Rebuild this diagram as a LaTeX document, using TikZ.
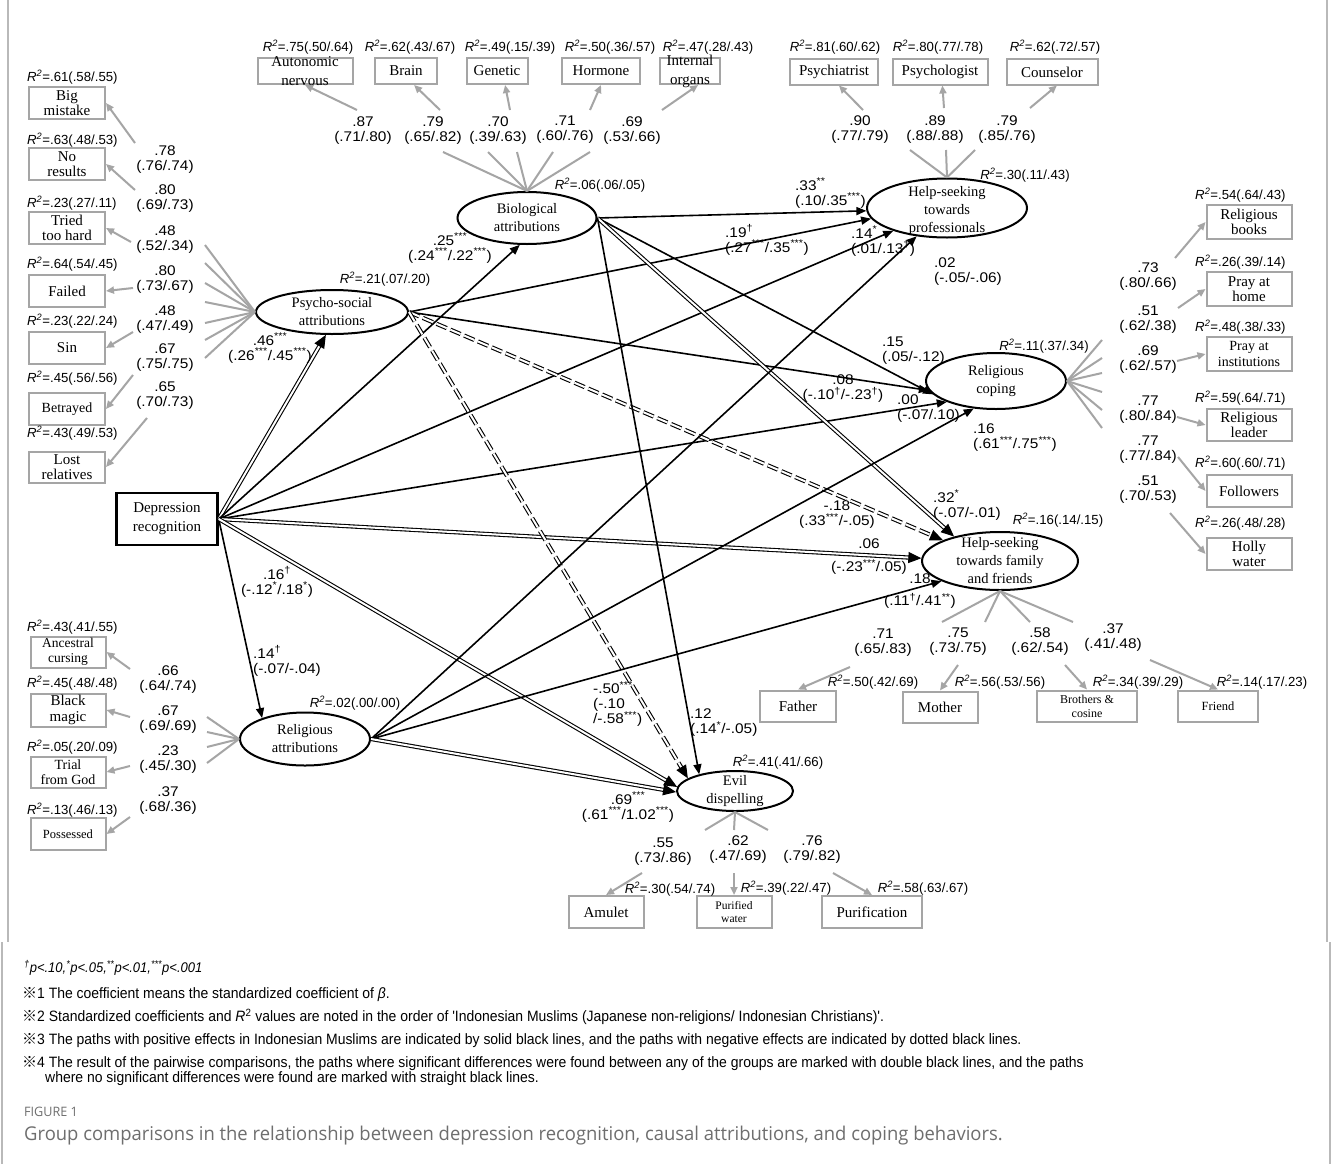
\documentclass[tikz,border=0pt]{standalone}
\usepackage{fontspec}
\setmainfont{Liberation Serif}
\newfontfamily\numfont[FakeStretch=1.1]{Liberation Sans}
\newfontfamily\rfont{Liberation Sans}
\newfontfamily\notefont[FakeStretch=0.93]{Liberation Sans}
\newfontfamily\markfont{Noto Sans CJK JP}
\newfontfamily\capfont[FakeStretch=0.97]{Open Sans}
\usetikzlibrary{shapes,arrows.meta}

\definecolor{indgray}{RGB}{165,165,165}
\definecolor{capgray}{RGB}{110,110,110}
\definecolor{framegray}{RGB}{185,185,185}

\newcommand{\rsq}[1]{{\itshape R\textsuperscript{2}}=#1}
\newcommand{\sig}[1]{\textsuperscript{#1}}

\tikzset{
  ind/.style={draw=indgray, line width=2pt, rectangle, inner sep=0pt, align=center, font=\fontsize{15}{15.5}\selectfont},
  latent/.style={draw, ellipse, line width=2pt, inner sep=0pt},
  latxt/.style={align=center, inner sep=0pt, font=\fontsize{14.5}{18}\selectfont},
  obs/.style={draw, rectangle, line width=2.4pt, inner sep=0pt, align=center, font=\fontsize{15}{19}\selectfont},
  rsqlab/.style={font=\rfont\fontsize{13.2}{14}\selectfont, inner sep=0pt},
  coef/.style={font=\numfont\fontsize{14}{15}\selectfont, inner sep=0pt, align=center},
  stub/.style={indgray, line width=2pt},
  load/.style={indgray, line width=2pt, -{Triangle[length=8pt,width=7pt]}},
  path/.style={line width=1.6pt, -{Triangle[length=10pt,width=8pt]}},
  dbl/.style={line width=1.1pt, double distance=2pt, -{Triangle[length=13pt,width=11pt]}},
  negdbl/.style={dbl, dash pattern=on 11pt off 4pt},
  note/.style={anchor=west, inner sep=0pt, font=\notefont\fontsize{15}{16}\selectfont},
}

\begin{document}
\begin{tikzpicture}[x=1pt,y=-1pt]
  \useasboundingbox (0,0) rectangle (1332,1164);
  \fill[white] (0,0) rectangle (1332,1164);
  % frame
  \draw[framegray, line width=1.5pt] (8,0) -- (8,942);
  \draw[framegray, line width=1.5pt] (1327,0) -- (1327,942);
  \draw[framegray, line width=1.5pt] (2,942) -- (2,1164);
  \draw[framegray, line width=1.5pt] (1330,942) -- (1330,1164);

  % Draw latent variables
  \node[latent, minimum width=152, minimum height=44, label={[latxt]center:Psycho-social\\attributions}] (psy) at (332,312) {};
  \node[latent, minimum width=139, minimum height=52, label={[latxt]center:Biological\\attributions}] (bio) at (527,218) {};
  \node[latent, minimum width=130, minimum height=53, label={[latxt]center:Religious\\attributions}] (rel) at (305,739) {};
  \node[latent, minimum width=160, minimum height=59, label={[latxt, yshift=-3pt]center:Help-seeking\\towards\\professionals}] (prof) at (947,208) {};
  \node[latent, minimum width=140, minimum height=56, label={[latxt]center:Religious\\coping}] (cope) at (996,381) {};
  \node[latent, minimum width=156, minimum height=58, label={[latxt]center:Help-seeking\\towards family\\and friends}] (fam) at (1000,561) {};
  \node[latent, minimum width=116, minimum height=40, label={[latxt]center:Evil\\dispelling}] (evil) at (735,791) {};
  \node[obs, minimum width=101, minimum height=52] (dep) at (167,519) {Depression\\recognition};

  % R2 of latent variables
  \node[rsqlab] (r-psy) at (385,279) {\rsq{.21(.07/.20)}};
  \node[rsqlab] (r-bio) at (600,185) {\rsq{.06(.06/.05)}};
  \node[rsqlab] (r-rel) at (355,703) {\rsq{.02(.00/.00)}};
  \node[rsqlab] (r-prof) at (1025,175) {\rsq{.30(.11/.43)}};
  \node[rsqlab] (r-cope) at (1044,346) {\rsq{.11(.37/.34)}};
  \node[rsqlab] (r-fam) at (1058,520) {\rsq{.16(.14/.15)}};
  \node[rsqlab] (r-evil) at (778,762) {\rsq{.41(.41/.66)}};

  % Psycho-social indicators
  \node[ind, minimum width=76, minimum height=32] (bm) at (67,103) {Big\\mistake};
  \node[ind, minimum width=76, minimum height=32] (nr) at (67,164) {No\\results};
  \node[ind, minimum width=76, minimum height=32] (th) at (67,228) {Tried\\too hard};
  \node[ind, minimum width=76, minimum height=32] (fd) at (67,291) {Failed};
  \node[ind, minimum width=76, minimum height=32] (sn) at (67,348) {Sin};
  \node[ind, minimum width=76, minimum height=32, font=\fontsize{14}{15}\selectfont] (bt) at (67,409) {Betrayed};
  \node[ind, minimum width=76, minimum height=31] (lr) at (67,467) {Lost\\relatives};
  \node[rsqlab, anchor=west] (r-bm) at (27,77) {\rsq{.61(.58/.55)}};
  \node[rsqlab, anchor=west] (r-nr) at (27,140) {\rsq{.63(.48/.53)}};
  \node[rsqlab, anchor=west] (r-th) at (27,203) {\rsq{.23(.27/.11)}};
  \node[rsqlab, anchor=west] (r-fd) at (27,264) {\rsq{.64(.54/.45)}};
  \node[rsqlab, anchor=west] (r-sn) at (27,321) {\rsq{.23(.22/.24)}};
  \node[rsqlab, anchor=west] (r-bt) at (27,378) {\rsq{.45(.56/.56)}};
  \node[rsqlab, anchor=west] (r-lr) at (27,433) {\rsq{.43(.49/.53)}};
  \node[coef] (c-bm) at (165,160) {.78\\(.76/.74)};
  \node[coef] (c-nr) at (165,199) {.80\\(.69/.73)};
  \node[coef] (c-th) at (165,240) {.48\\(.52/.34)};
  \node[coef] (c-fd) at (165,280) {.80\\(.73/.67)};
  \node[coef] (c-sn) at (165,320) {.48\\(.47/.49)};
  \node[coef] (c-bt) at (165,358) {.67\\(.75/.75)};
  \node[coef] (c-lr) at (165,396) {.65\\(.70/.73)};
  \coordinate (s-bm) at (205,245); \coordinate (a-bm) at (135,143);
  \coordinate (s-nr) at (205,263); \coordinate (a-nr) at (135,190);
  \coordinate (s-th) at (205,283); \coordinate (a-th) at (131,242);
  \coordinate (s-fd) at (205,302); \coordinate (a-fd) at (133,288);
  \coordinate (s-sn) at (205,323); \coordinate (a-sn) at (133,332);
  \coordinate (s-bt) at (205,340); \coordinate (a-bt) at (133,375);
  \coordinate (s-lr) at (205,358); \coordinate (a-lr) at (147,418);
  \draw[stub] (psy.west) -- (s-bm); \draw[load] (a-bm) -- (bm.east);
  \draw[stub] (psy.west) -- (s-nr); \draw[load] (a-nr) -- (nr.east);
  \draw[stub] (psy.west) -- (s-th); \draw[load] (a-th) -- (th.east);
  \draw[stub] (psy.west) -- (s-fd); \draw[load] (a-fd) -- (fd.east);
  \draw[stub] (psy.west) -- (s-sn); \draw[load] (a-sn) -- (sn.east);
  \draw[stub] (psy.west) -- (s-bt); \draw[load] (a-bt) -- (bt.east);
  \draw[stub] (psy.west) -- (s-lr); \draw[load] (a-lr) -- (lr.east);

  % Biological indicators
  \node[ind, minimum width=95, minimum height=26, label={[align=center, inner sep=0pt, font=\fontsize{15}{19}\selectfont]center:Autonomic\\nervous}] (an) at (305,71) {};
  \node[ind, minimum width=62, minimum height=26] (br) at (406,71) {Brain};
  \node[ind, minimum width=61, minimum height=26] (gn) at (497,71) {Genetic};
  \node[ind, minimum width=78, minimum height=26] (hm) at (601,71) {Hormone};
  \node[ind, minimum width=60, minimum height=26, label={[align=center, inner sep=0pt, font=\fontsize{15}{19}\selectfont]center:Internal\\organs}] (io) at (690,71) {};
  \node[rsqlab] (r-an) at (308,47) {\rsq{.75(.50/.64)}};
  \node[rsqlab] (r-br) at (410,47) {\rsq{.62(.43/.67)}};
  \node[rsqlab] (r-gn) at (510,47) {\rsq{.49(.15/.39)}};
  \node[rsqlab] (r-hm) at (610,47) {\rsq{.50(.36/.57)}};
  \node[rsqlab] (r-io) at (708,47) {\rsq{.47(.28/.43)}};
  \node[coef] (c-an) at (363,131) {.87\\(.71/.80)};
  \node[coef] (c-br) at (433,131) {.79\\(.65/.82)};
  \node[coef] (c-gn) at (498,131) {.70\\(.39/.63)};
  \node[coef] (c-hm) at (565,130) {.71\\(.60/.76)};
  \node[coef] (c-io) at (632,131) {.69\\(.53/.66)};
  \coordinate (s-an) at (443,152); \coordinate (a-an) at (357,110);
  \coordinate (s-br) at (488,152); \coordinate (a-br) at (440,110);
  \coordinate (s-gn) at (517,152); \coordinate (a-gn) at (510,110);
  \coordinate (s-hm) at (553,152); \coordinate (a-hm) at (590,110);
  \coordinate (s-io) at (590,152); \coordinate (a-io) at (662,110);
  \draw[stub] (bio.north) -- (s-an); \draw[load] (a-an) -- (an.south);
  \draw[stub] (bio.north) -- (s-br); \draw[load] (a-br) -- (br.-60);
  \draw[stub] (bio.north) -- (s-gn); \draw[load] (a-gn) -- (gn.-60);
  \draw[stub] (bio.north) -- (s-hm); \draw[load] (a-hm) -- (hm.south);
  \draw[stub] (bio.north) -- (s-io); \draw[load] (a-io) -- (io.-60);

  % Professional help indicators
  \node[ind, minimum width=88, minimum height=25] (ps) at (834,72) {Psychiatrist};
  \node[ind, minimum width=95, minimum height=25] (pl) at (940,72) {Psychologist};
  \node[ind, minimum width=91, minimum height=25] (cs) at (1052,72) {Counselor};
  \node[rsqlab] (r-ps) at (835,47) {\rsq{.81(.60/.62)}};
  \node[rsqlab] (r-pl) at (938,47) {\rsq{.80(.77/.78)}};
  \node[rsqlab] (r-cs) at (1055,47) {\rsq{.62(.72/.57)}};
  \node[coef] (c-ps) at (860,130) {.90\\(.77/.79)};
  \node[coef] (c-pl) at (935,130) {.89\\(.88/.88)};
  \node[coef] (c-cs) at (1007,130) {.79\\(.85/.76)};
  \coordinate (s-ps) at (910,150); \coordinate (a-ps) at (863,110);
  \coordinate (s-pl) at (946,150); \coordinate (a-pl) at (944,108);
  \coordinate (s-cs) at (975,150); \coordinate (a-cs) at (1030,108);
  \draw[stub] (prof.north) -- (s-ps); \draw[load] (a-ps) -- (ps.-70);
  \draw[stub] (prof.north) -- (s-pl); \draw[load] (a-pl) -- (pl.-80);
  \draw[stub] (prof.north) -- (s-cs); \draw[load] (a-cs) -- (cs.-70);

  % Religious coping indicators
  \node[ind, minimum width=85, minimum height=34] (rb) at (1249,222) {Religious\\books};
  \node[ind, minimum width=85, minimum height=34] (ph) at (1249,289) {Pray at\\home};
  \node[ind, minimum width=85, minimum height=34, font=\fontsize{14}{15.5}\selectfont] (pi) at (1249,354) {Pray at\\institutions};
  \node[ind, minimum width=85, minimum height=32] (rl) at (1249,425) {Religious\\leader};
  \node[ind, minimum width=85, minimum height=32] (fo) at (1249,491) {Followers};
  \node[ind, minimum width=85, minimum height=32] (hw) at (1249,554) {Holly\\water};
  \node[rsqlab, anchor=west] (r-rb) at (1195,195) {\rsq{.54(.64/.43)}};
  \node[rsqlab, anchor=west] (r-ph) at (1195,262) {\rsq{.26(.39/.14)}};
  \node[rsqlab, anchor=west] (r-pi) at (1195,327) {\rsq{.48(.38/.33)}};
  \node[rsqlab, anchor=west] (r-rl) at (1195,398) {\rsq{.59(.64/.71)}};
  \node[rsqlab, anchor=west] (r-fo) at (1195,463) {\rsq{.60(.60/.71)}};
  \node[rsqlab, anchor=west] (r-hw) at (1195,523) {\rsq{.26(.48/.28)}};
  \node[coef] (c-rb) at (1148,277) {.73\\(.80/.66)};
  \node[coef] (c-ph) at (1148,320) {.51\\(.62/.38)};
  \node[coef] (c-pi) at (1148,360) {.69\\(.62/.57)};
  \node[coef] (c-rl) at (1148,410) {.77\\(.80/.84)};
  \node[coef] (c-fo) at (1148,450) {.77\\(.77/.84)};
  \node[coef] (c-hw) at (1148,490) {.51\\(.70/.53)};
  \coordinate (s-rb) at (1102,340); \coordinate (a-rb) at (1175,258);
  \coordinate (s-ph) at (1102,358); \coordinate (a-ph) at (1178,308);
  \coordinate (s-pi) at (1102,373); \coordinate (a-pi) at (1177,361);
  \coordinate (s-rl) at (1102,392); \coordinate (a-rl) at (1177,417);
  \coordinate (s-fo) at (1102,410); \coordinate (a-fo) at (1178,457);
  \coordinate (s-hw) at (1102,428); \coordinate (a-hw) at (1170,513);
  \draw[stub] (cope.east) -- (s-rb); \draw[load] (a-rb) -- (rb.west);
  \draw[stub] (cope.east) -- (s-ph); \draw[load] (a-ph) -- (ph.west);
  \draw[stub] (cope.east) -- (s-pi); \draw[load] (a-pi) -- (pi.west);
  \draw[stub] (cope.east) -- (s-rl); \draw[load] (a-rl) -- (rl.west);
  \draw[stub] (cope.east) -- (s-fo); \draw[load] (a-fo) -- (fo.west);
  \draw[stub] (cope.east) -- (s-hw); \draw[load] (a-hw) -- (hw.west);

  % Family and friends indicators
  \node[ind, minimum width=76, minimum height=31] (ft) at (798,706) {Father};
  \node[ind, minimum width=75, minimum height=31] (mo) at (940,707) {Mother};
  \node[ind, minimum width=100, minimum height=31, font=\fontsize{12}{14}\selectfont] (bc) at (1087,706) {Brothers \&\\cosine};
  \node[ind, minimum width=80, minimum height=31, font=\fontsize{12.5}{14}\selectfont] (fr) at (1218,706) {Friend};
  \node[rsqlab] (r-ft) at (873,682) {\rsq{.50(.42/.69)}};
  \node[rsqlab] (r-mo) at (1000,682) {\rsq{.56(.53/.56)}};
  \node[rsqlab] (r-bc) at (1138,682) {\rsq{.34(.39/.29)}};
  \node[rsqlab] (r-fr) at (1262,682) {\rsq{.14(.17/.23)}};
  \node[coef] (c-ft) at (883,643) {.71\\(.65/.83)};
  \node[coef] (c-mo) at (958,642) {.75\\(.73/.75)};
  \node[coef] (c-bc) at (1040,642) {.58\\(.62/.54)};
  \node[coef] (c-fr) at (1113,638) {.37\\(.41/.48)};
  \coordinate (s-ft) at (942,622); \coordinate (a-ft) at (850,667);
  \coordinate (s-mo) at (985,622); \coordinate (a-mo) at (958,665);
  \coordinate (s-bc) at (1030,622); \coordinate (a-bc) at (1065,665);
  \coordinate (s-fr) at (1073,622); \coordinate (a-fr) at (1150,660);
  \draw[stub] (fam.south) -- (s-ft); \draw[load] (a-ft) -- (ft.north);
  \draw[stub] (fam.south) -- (s-mo); \draw[load] (a-mo) -- (mo.north);
  \draw[stub] (fam.south) -- (s-bc); \draw[load] (a-bc) -- (bc.north);
  \draw[stub] (fam.south) -- (s-fr); \draw[load] (a-fr) -- (fr.north);

  % Evil dispelling indicators
  \node[ind, minimum width=75, minimum height=32] (am) at (606,912) {Amulet};
  \node[ind, minimum width=75, minimum height=32, font=\fontsize{11.5}{13}\selectfont] (pw) at (734,912) {Purified\\water};
  \node[ind, minimum width=100, minimum height=32] (pu) at (872,912) {Purification};
  \node[rsqlab] (r-am) at (670,889) {\rsq{.30(.54/.74)}};
  \node[rsqlab] (r-pw) at (786,888) {\rsq{.39(.22/.47)}};
  \node[rsqlab] (r-pu) at (923,888) {\rsq{.58(.63/.67)}};
  \node[coef] (c-am) at (663,852) {.55\\(.73/.86)};
  \node[coef] (c-pw) at (738,850) {.62\\(.47/.69)};
  \node[coef] (c-pu) at (812,850) {.76\\(.79/.82)};
  \coordinate (s-am) at (705,830); \coordinate (a-am) at (642,873);
  \coordinate (s-pw) at (734,830); \coordinate (a-pw) at (734,873);
  \coordinate (s-pu) at (768,830); \coordinate (a-pu) at (833,873);
  \draw[stub] (evil.south) -- (s-am); \draw[load] (a-am) -- (am.north);
  \draw[stub] (evil.south) -- (s-pw); \draw[load] (a-pw) -- (pw.north);
  \draw[stub] (evil.south) -- (s-pu); \draw[load] (a-pu) -- (pu.north);

  % Religious attribution indicators
  \node[ind, minimum width=75, minimum height=31, font=\fontsize{13.5}{15}\selectfont] (ac) at (68,652) {Ancestral\\cursing};
  \node[ind, minimum width=75, minimum height=33] (bk) at (68,710) {Black\\magic};
  \node[ind, minimum width=75, minimum height=31, font=\fontsize{14}{15}\selectfont] (tg) at (68,772) {Trial\\from God};
  \node[ind, minimum width=75, minimum height=32, font=\fontsize{12.5}{14}\selectfont] (po) at (68,834) {Possessed};
  \node[rsqlab, anchor=west] (r-ac) at (27,627) {\rsq{.43(.41/.55)}};
  \node[rsqlab, anchor=west] (r-bk) at (27,683) {\rsq{.45(.48/.48)}};
  \node[rsqlab, anchor=west] (r-tg) at (27,747) {\rsq{.05(.20/.09)}};
  \node[rsqlab, anchor=west] (r-po) at (27,810) {\rsq{.13(.46/.13)}};
  \node[coef] (c-ac) at (168,680) {.66\\(.64/.74)};
  \node[coef] (c-bk) at (168,720) {.67\\(.69/.69)};
  \node[coef] (c-tg) at (168,760) {.23\\(.45/.30)};
  \node[coef] (c-po) at (168,801) {.37\\(.68/.36)};
  \coordinate (s-ac) at (207,717); \coordinate (a-ac) at (130,669);
  \coordinate (s-bk) at (207,732); \coordinate (a-bk) at (130,717);
  \coordinate (s-tg) at (207,747); \coordinate (a-tg) at (130,766);
  \coordinate (s-po) at (207,763); \coordinate (a-po) at (130,817);
  \draw[stub] (rel.west) -- (s-ac); \draw[load] (a-ac) -- (ac.east);
  \draw[stub] (rel.west) -- (s-bk); \draw[load] (a-bk) -- (bk.east);
  \draw[stub] (rel.west) -- (s-tg); \draw[load] (a-tg) -- (tg.east);
  \draw[stub] (rel.west) -- (s-po); \draw[load] (a-po) -- (po.east);

  % Structural paths from depression recognition
  \draw[dbl] (dep.east) -- (psy.255);
  \draw[path] (dep.east) -- (bio.255);
  \draw[path] (dep.east) -- (rel.154);
  \draw[path] (dep.east) -- (prof.203);
  \draw[path] (dep.east) -- (cope.203);
  \draw[dbl] (dep.east) -- (fam.178);
  \draw[dbl] (dep.east) -- (evil.176);
  % from psycho-social attributions
  \draw[path] (psy.east) -- (prof.188);
  \draw[path] (psy.east) -- (cope.188);
  \draw[negdbl] (psy.east) -- (fam.160);
  \draw[negdbl] (psy.east) -- (evil.165);
  % from biological attributions
  \draw[path] (bio.east) -- (prof.182);
  \draw[path] (bio.east) -- (cope.192);
  \draw[dbl] (bio.east) -- (fam.152);
  \draw[path] (bio.east) -- (evil.155);
  % from religious attributions
  \draw[path] (rel.east) -- (prof.223);
  \draw[path] (rel.east) -- (cope.231);
  \draw[path] (rel.east) -- (fam.199);
  \draw[dbl] (rel.east) -- (evil.181);

  % Path coefficients
  \node[coef] (p-dpsy) at (270,348) {.46\sig{***}\\(.26\sig{***}/.45\sig{***})};
  \node[coef] (p-dbio) at (450,248) {.25\sig{***}\\(.24\sig{***}/.22\sig{***})};
  \node[coef, anchor=west, align=left] (p-drel) at (253,661) {.14\sig{†}\\(-.07/-.04)};
  \node[coef] (p-devil) at (277,582) {.16\sig{†}\\(-.12\sig{*}/.18\sig{*})};
  \node[coef, anchor=west, align=left] (p-dprof) at (851,241) {.14\sig{*}\\(.01/.13\sig{†})};
  \node[coef, anchor=west, align=left] (p-dcope) at (897,409) {.00\\(-.07/.10)};
  \node[coef, font=\numfont\fontsize{14}{23}\selectfont] (p-dfam) at (869,557) {.06\\(-.23\sig{***}/.05)};
  \node[coef, anchor=west, align=left] (p-bprof) at (795,193) {.33\sig{**}\\(.10/.35\sig{***})};
  \node[coef, anchor=west, align=left] (p-pprof) at (725,240) {.19\sig{†}\\(.27\sig{***}/.35\sig{***})};
  \node[coef, anchor=west, align=left] (p-bcope) at (882,351) {.15\\(.05/-.12)};
  \node[coef] (p-pcope) at (843,389) {.08\\(-.10\sig{†}/-.23\sig{†})};
  \node[coef, anchor=west, align=left] (p-rprof) at (934,272) {.02\\(-.05/-.06)};
  \node[coef, anchor=west, align=left] (p-rcope) at (973,438) {.16\\(.61\sig{***}/.75\sig{***})};
  \node[coef, anchor=west, align=left] (p-bfam) at (933,505) {.32\sig{*}\\(-.07/-.01)};
  \node[coef] (p-pfam) at (837,515) {-.18\\(.33\sig{***}/-.05)};
  \node[coef, font=\numfont\fontsize{14}{22}\selectfont] (p-rfam) at (920,591) {.18\\(.11\sig{†}/.41\sig{**})};
  \node[coef, anchor=west, align=left] (p-pevil) at (593,704) {-.50\sig{***}\\(-.10\\/-.58\sig{***})};
  \node[coef, anchor=west, align=left] (p-bevil) at (690,723) {.12\\(.14\sig{*}/-.05)};
  \node[coef] (p-revil) at (628,807) {.69\sig{***}\\(.61\sig{***}/1.02\sig{***})};

  % Notes
  \node[note, font=\notefont\itshape\fontsize{14}{15}\selectfont] (n0) at (24,968) {\sig{†}p<.10,\sig{*}p<.05,\sig{**}p<.01,\sig{***}p<.001};
  \node[note] (n1) at (22,994) {{\markfont ※}1 The coefficient means the standardized coefficient of \textit{β}.};
  \node[note] (n2) at (22,1017) {{\markfont ※}2 Standardized coefficients and \textit{R}\textsuperscript{2} values are noted in the order of 'Indonesian Muslims (Japanese non-religions/ Indonesian Christians)'.};
  \node[note] (n3) at (22,1040) {{\markfont ※}3 The paths with positive effects in Indonesian Muslims are indicated by solid black lines, and the paths with negative effects are indicated by dotted black lines.};
  \node[note] (n4) at (22,1063) {{\markfont ※}4 The result of the pairwise comparisons, the paths where significant differences were found between any of the groups are marked with double black lines, and the paths};
  \node[note] (n5) at (45,1079) {where no significant differences were found are marked with straight black lines.};

  % Caption
  \node[anchor=west, inner sep=0pt, text=capgray, font=\capfont\fontsize{13}{14}\selectfont] (fig) at (24,1112) {FIGURE 1};
  \node[anchor=west, inner sep=0pt, text=capgray, font=\capfont\fontsize{19}{21}\selectfont] (cap) at (24,1136) {Group comparisons in the relationship between depression recognition, causal attributions, and coping behaviors.};
\end{tikzpicture}
\end{document}
